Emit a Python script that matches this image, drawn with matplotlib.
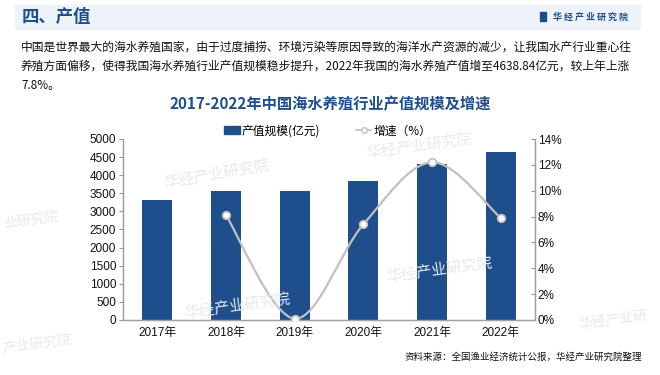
import matplotlib.pyplot as plt
from matplotlib.path import Path
from matplotlib.patches import PathPatch, Rectangle
from matplotlib.lines import Line2D

plt.rcParams['font.family'] = ['Liberation Sans', 'Noto Sans CJK SC', 'DejaVu Sans']

# Data
years = ["2017年", "2018年", "2019年", "2020年", "2021年", "2022年"]
output_value = [3307.4, 3572.0, 3575.3, 3836.2, 4301.7, 4638.84]
growth_years = [1, 2, 3, 4, 5]
growth_rate = [8.1, 0.1, 7.4, 12.2, 7.9]

blue = "#1f4e8c"
grey = "#c0c0c0"
cjk = ['Noto Sans CJK SC', 'DejaVu Sans']

fig = plt.figure(figsize=(6.6, 3.75), dpi=100)

# header band
fig.patches.append(Rectangle((15 / 660, 1 - 29 / 375), 625 / 660, 24 / 375,
                             transform=fig.transFigure, color="#eef3fa", zorder=0))
fig.text(22 / 660, 1 - 17 / 375, "四、产值", family=cjk, fontsize=12.5,
         fontweight="bold", color=blue, va="center")
fig.patches.append(Rectangle((540 / 660, 1 - 21 / 375), 6 / 660, 9 / 375,
                             transform=fig.transFigure, color=blue))
fig.text(553 / 660, 1 - 17 / 375, "华 经 产 业 研 究 院", family=cjk, fontsize=6.5,
         fontweight="bold", color=blue, va="center")

# paragraph
para = ["中国是世界最大的海水养殖国家，由于过度捕捞、环境污染等原因导致的海洋水产资源的减少，让我国水产行业重心往",
        "养殖方面偏移，使得我国海水养殖行业产值规模稳步提升，2022年我国的海水养殖产值增至4638.84亿元，较上年上涨",
        "7.8%。"]
for i, line in enumerate(para):
    fig.text(21 / 660, 1 - (47 + i * 19) / 375, line, family=cjk, fontsize=8.5,
             color="#111111", va="center")

# title
fig.text(330 / 660, 1 - 104 / 375, "2017-2022年中国海水养殖行业产值规模及增速", family=cjk,
         fontsize=11, fontweight="bold", color=blue, ha="center", va="center")

# watermarks
marks = [(163, 188, 10, "华经产业研究院"), (365, 158, 8, "华经产业研究院"),
         (385, 282, 8, "华经产业研究院"), (183, 318, 8, "华经产业研究院"),
         (2, 228, 8, "业研究院"), (578, 328, 8, "华经产业研"), (2, 352, 8, "产业研究院")]
for x, y, r, s in marks:
    fig.text(x / 660, 1 - y / 375, s, family=cjk, fontsize=11 if len(s) > 5 else 10,
             color="#e6e9ee", rotation=r, zorder=0)

ax = fig.add_axes([123 / 660, 1 - 320 / 375, 412 / 660, 181 / 375])
ax.patch.set_alpha(0)
ax2 = ax.twinx()

x = list(range(len(years)))
ax.bar(x, output_value, width=0.44, color=blue, zorder=2)
ax.set_xlim(-0.5, 5.5)
ax.set_ylim(0, 5000)
ax.set_yticks(range(0, 5001, 500))
ax.set_xticks(x)
ax.set_xticklabels(years, family=['Liberation Sans', 'Noto Sans CJK SC'])
ax.tick_params(axis="x", length=0, labelsize=8.5, pad=5, colors="#111111")
ax.tick_params(axis="y", length=3, width=0.8, labelsize=8.5, pad=2,
               colors="#999999", labelcolor="#111111")
ax.spines["top"].set_visible(False)
ax2.spines["top"].set_visible(False)
for a in (ax, ax2):
    for s in ["left", "right", "bottom"]:
        a.spines[s].set_color("#a0a0a0")
        a.spines[s].set_linewidth(0.9)

# smooth growth line (Catmull-Rom as cubic Bezier)
pts = list(zip(growth_years, growth_rate))
verts = [pts[0]]
codes = [Path.MOVETO]
n = len(pts)
for i in range(n - 1):
    p0 = pts[max(i - 1, 0)]
    p1 = pts[i]
    p2 = pts[i + 1]
    p3 = pts[min(i + 2, n - 1)]
    c1 = (p1[0] + (p2[0] - p0[0]) / 6, p1[1] + (p2[1] - p0[1]) / 6)
    c2 = (p2[0] - (p3[0] - p1[0]) / 6, p2[1] - (p3[1] - p1[1]) / 6)
    verts += [c1, c2, p2]
    codes += [Path.CURVE4] * 3
ax2.add_patch(PathPatch(Path(verts, codes), facecolor="none", edgecolor=grey,
                        lw=1.6, zorder=3))
ax2.plot(growth_years, growth_rate, ls="none", marker="o", ms=5.5,
         mfc="white", mec=grey, mew=1.2, zorder=4)
ax2.set_ylim(0, 14)
ax2.set_yticks(range(0, 15, 2))
ax2.set_yticklabels([f"{v}%" for v in range(0, 15, 2)])
ax2.tick_params(axis="y", length=3, width=0.8, colors="#999999", labelcolor="#111111",
                labelsize=8.5, pad=2, direction="in")

# legend
handles = [Rectangle((0, 0), 1, 1, color=blue),
           Line2D([], [], color=grey, lw=1.2, marker="o", ms=4, mfc="white", mec=grey)]
fig.legend(handles, ["产值规模(亿元)", "增速（%）"], loc="center",
           bbox_to_anchor=(328 / 660, 1 - 131 / 375), ncol=2, frameon=False,
           prop={"family": cjk, "size": 8.5}, handlelength=1.3, handleheight=0.7,
           handletextpad=0.2, columnspacing=3)

fig.text(642 / 660, 1 - 357 / 375, "资料来源：全国渔业经济统计公报，华经产业研究院整理",
         family=cjk, fontsize=6.8, color="#111111", ha="right", va="center")

fig.savefig("out.png", dpi=100)
